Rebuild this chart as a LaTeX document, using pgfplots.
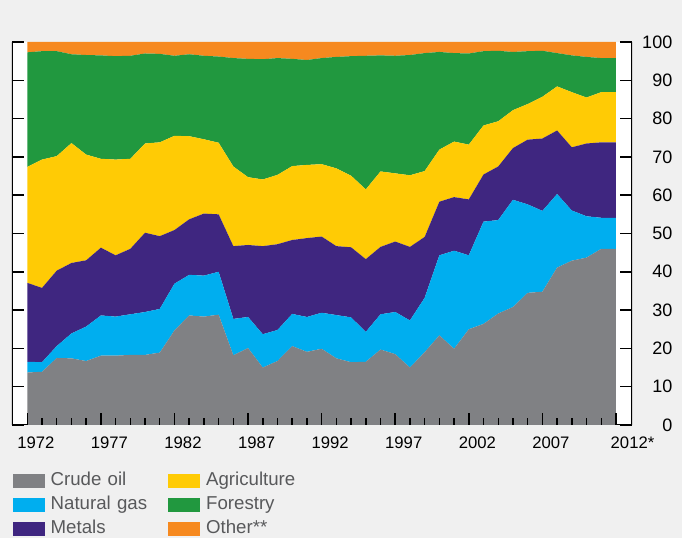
\documentclass[border=0pt]{standalone}
\usepackage{pgfplots}
\pgfplotsset{compat=1.18}
\usepackage{pgfplotstable}
\usepackage{fontspec}
\setmainfont{Liberation Sans}
\definecolor{cOil}{HTML}{808184}
\definecolor{cGas}{HTML}{00AEEF}
\definecolor{cMet}{HTML}{3F2680}
\definecolor{cAgr}{HTML}{FFCB05}
\definecolor{cFor}{HTML}{21983F}
\definecolor{cOth}{HTML}{F6891F}
\definecolor{cBg}{HTML}{F0F0F0}
\definecolor{cLeg}{HTML}{58595B}
\pgfplotstableread{
year oil gas metals agri forest other
1972 13.7 2.8 20.6 30.3 29.9 2.7
1973 13.9 2.5 19.4 33.5 28.3 2.4
1974 17.5 3.1 19.7 29.9 27.4 2.4
1975 17.4 6.5 18.4 31.3 23.2 3.2
1976 16.7 9.0 17.3 27.6 26.0 3.4
1977 18.1 10.5 17.7 23.2 27.0 3.5
1978 18.1 10.2 16.0 25.0 27.0 3.7
1979 18.3 10.6 17.1 23.5 26.9 3.6
1980 18.3 11.2 20.7 23.3 23.5 3.0
1981 18.9 11.4 19.0 24.5 23.1 3.1
1982 24.7 12.2 14.0 24.6 20.9 3.6
1983 28.6 10.6 14.5 21.7 21.4 3.2
1984 28.3 10.7 16.2 19.4 21.8 3.6
1985 28.8 11.2 15.0 18.7 22.5 3.8
1986 18.2 9.5 19.0 20.8 28.3 4.2
1987 20.1 8.1 18.8 17.7 30.9 4.4
1988 15.0 8.7 23.0 17.4 31.4 4.5
1989 16.7 8.1 22.4 18.1 30.5 4.2
1990 20.6 8.4 19.3 19.3 28.0 4.4
1991 19.1 9.1 20.6 19.1 27.4 4.7
1992 19.9 9.4 19.9 18.9 27.7 4.2
1993 17.4 11.3 18.0 20.3 29.1 3.9
1994 16.4 11.7 18.3 18.7 31.2 3.7
1995 16.5 7.8 19.0 18.2 34.9 3.6
1996 19.7 9.2 17.6 19.7 30.3 3.5
1997 18.5 11.0 18.4 17.8 30.7 3.6
1998 15.0 12.3 19.2 18.7 31.4 3.4
1999 19.0 14.2 15.9 17.2 30.8 2.9
2000 23.4 20.9 14.0 13.6 25.5 2.6
2001 19.9 25.6 14.0 14.5 23.1 2.9
2002 25.0 19.3 14.6 14.3 23.8 3.0
2003 26.4 26.7 12.3 12.8 19.4 2.4
2004 29.1 24.4 14.0 11.8 18.4 2.3
2005 30.8 28.0 13.5 9.9 15.2 2.6
2006 34.5 23.1 16.9 9.3 13.8 2.4
2007 34.8 21.1 18.9 10.9 12.0 2.3
2008 41.1 19.2 16.6 11.5 8.7 2.9
2009 42.9 13.1 16.5 14.4 9.6 3.5
2010 43.7 10.8 19.0 12.0 10.6 3.9
2011 46.0 8.1 19.7 13.1 8.9 4.2
2012 46.0 8.1 19.7 13.1 8.9 4.2
}\data
\begin{document}
\begin{tikzpicture}
\fill[cBg] (-9pt,-84.75pt) rectangle (502.5pt,318.75pt);
\useasboundingbox (-9pt,-84.75pt) rectangle (502.5pt,318.75pt);
\begin{axis}[
  width=465pt, height=287.25pt, scale only axis,
  xmin=1970.96, xmax=2013.09, ymin=0, ymax=100,
  stack plots=y, axis on top,
  axis line style={draw=none},
  axis background/.style={fill=white},
  xtick={1972,1977,...,2012},
  xticklabels={1972,1977,1982,1987,1992,1997,2002,2007,{\hspace*{12pt}2012*}},
  minor x tick num=4,
  xtick pos=lower,
  ytick={0,10,...,100},
  yticklabel pos=right,
  ytick pos=both,
  major tick length=9pt, minor tick length=5pt,
  every tick/.style={black, line width=1.1pt},
  /pgf/number format/assume math mode=true,
  xticklabel style={font=\fontsize{12.5}{14}\selectfont, xshift=6.4pt, yshift=-5pt},
  yticklabel={\makebox[30pt][r]{\pgfmathprintnumber{\tick}}},
  yticklabel style={font=\fontsize{13.5}{16}\selectfont, anchor=west, inner sep=0pt},
  legend columns=3, transpose legend,
  legend image code/.code={\fill[#1] (0pt,-5.25pt) rectangle (24pt,5.25pt);},
  legend style={at={(0,0)}, anchor=north west, xshift=0.5pt, yshift=-35.3pt,
    draw=none, fill=none, inner sep=0pt, row sep=4.9pt, column sep=4.3pt,
    nodes={inner sep=0pt, text height=10pt, text depth=3pt, text width=84pt,
      font=\fontsize{14}{16}\selectfont, text=cLeg}},
  legend cell align=left,
]
\addplot[fill=cOil, draw=none] table[x=year,y=oil] {\data} \closedcycle;
\addlegendentry{Crude oil}
\addplot[fill=cGas, draw=none] table[x=year,y=gas] {\data} \closedcycle;
\addlegendentry{Natural gas}
\addplot[fill=cMet, draw=none] table[x=year,y=metals] {\data} \closedcycle;
\addlegendentry{Metals}
\addplot[fill=cAgr, draw=none] table[x=year,y=agri] {\data} \closedcycle;
\addlegendentry{Agriculture}
\addplot[fill=cFor, draw=none] table[x=year,y=forest] {\data} \closedcycle;
\addlegendentry{Forestry}
\addplot[fill=cOth, draw=none] table[x=year,y=other] {\data} \closedcycle;
\addlegendentry{Other**}
\draw[line width=1.2pt] (rel axis cs:0,1) -- (rel axis cs:0,0) -- (rel axis cs:1,0) -- (rel axis cs:1,1);
\node[anchor=east, inner sep=0pt, xshift=29.25pt, yshift=20.9pt, font=\fontsize{13.5}{16}\selectfont] at (rel axis cs:1,1) {\%};
\end{axis}
\end{tikzpicture}
\end{document}
